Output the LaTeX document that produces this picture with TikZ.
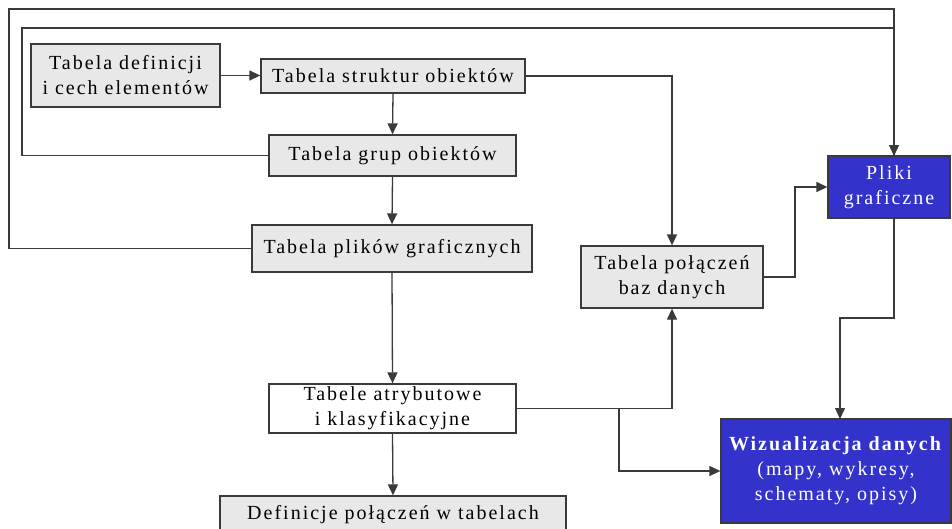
\documentclass[tikz,border=0pt]{standalone}
\usepackage{fontspec}
\setmainfont{Liberation Serif}
\newfontfamily\spaced[LetterSpace=10]{Liberation Serif}
\usetikzlibrary{arrows.meta}
\definecolor{boxgray}{HTML}{E8E8E8}
\definecolor{lncol}{HTML}{3A3A3A}
\definecolor{vizblue}{HTML}{3333CC}
\tikzset{
  box/.style={draw=lncol, line width=1.3pt, fill=boxgray, inner sep=0pt, align=center,
    font=\spaced\fontsize{20}{25}\selectfont},
  wbox/.style={box, fill=white},
  bbox/.style={box, fill=vizblue, text=white},
  conn/.style={draw=lncol, line width=1.3pt},
  arr/.style={conn, -{Triangle[length=11pt,width=10pt]}}
}
\begin{document}
\begin{tikzpicture}[x=1pt,y=-1pt]
\useasboundingbox (0,0) rectangle (952,528);
\clip (0,0) rectangle (952,528);
\fill[white] (0,0) rectangle (952,528);
\node[box, minimum width=189pt, minimum height=63pt] (b1) at (125.5,75.5) {Tabela definicji\\i cech elementów};
\node[box, minimum width=264pt, minimum height=34pt] (b2) at (393,76) {Tabela struktur obiektów};
\node[box, minimum width=247pt, minimum height=41pt] (b3) at (392.5,155.5) {Tabela grup obiektów};
\node[box, minimum width=280pt, minimum height=47pt] (b4) at (392,248.5) {Tabela plików graficznych};
\node[box, minimum width=182pt, minimum height=62pt] (b5) at (672,277) {Tabela połączeń\\baz danych};
\node[wbox, minimum width=247pt, minimum height=49pt] (b6) at (392.5,408.5) {Tabele atrybutowe\\i klasyfikacyjne};
\node[box, minimum width=346pt, minimum height=38pt] (b7) at (393,515) {Definicje połączeń w tabelach};
\node[bbox, minimum width=122pt, minimum height=62pt] (pl) at (889,187) {Pliki\\graficzne};
\node[bbox, minimum width=230pt, minimum height=104pt] (wz) at (836,471) {\textbf{Wizualizacja danych}\\(mapy, wykresy,\\schematy, opisy)};
\coordinate (c1) at (9,9);
\coordinate (c2) at (22,28);
\coordinate (pt) at (894,156);
\coordinate (j) at (619,408.5);
\coordinate (c3) at (795,277);
\coordinate (pb) at (894,218);
\coordinate (c4) at (894,318);
\coordinate (wt) at (840,419);
\draw[conn] (b3.west) -| (c2) -| (pt);
\draw[arr] (b4.west) -| (c1) -| (pt);
\draw[arr] (b1.east) -- (b1.east -| b2.west);
\draw[arr] (b2.south) -- (b3.north);
\draw[arr] (b3.south) -- (b4.north);
\draw[arr] (b2.east) -| (b5.north);
\draw[arr] (b4.south) -- (b6.north);
\draw[arr] (b6.south) -- (b7.north);
\draw[arr] (b6.east) -| (b5.south);
\draw[arr] (j) |- (wz.west);
\draw[arr] (b5.east) -- (c3) |- (pl.west);
\draw[arr] (pb) -- (c4) -| (wt);
\end{tikzpicture}
\end{document}
